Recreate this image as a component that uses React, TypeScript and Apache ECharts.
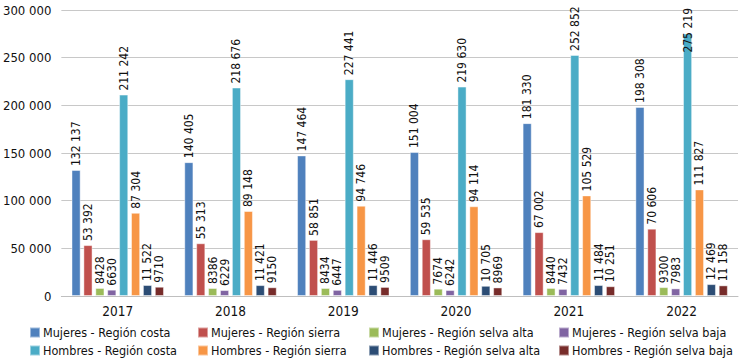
import React, { useEffect, useRef } from "react";
import * as echarts from "echarts";

const years = ["2017", "2018", "2019", "2020", "2021", "2022"];
const seriesNames = [
  "Mujeres - Región costa",
  "Mujeres - Región sierra",
  "Mujeres - Región selva alta",
  "Mujeres - Región selva baja",
  "Hombres - Región costa",
  "Hombres - Región sierra",
  "Hombres - Región selva alta",
  "Hombres - Región selva baja",
];
const colors = ["#4F81BD", "#C0504D", "#9BBB59", "#8064A2", "#4BACC6", "#F79646", "#2C4D75", "#772C2A"];

const mujeresCosta = [132137, 140405, 147464, 151004, 181330, 198308];
const mujeresSierra = [53392, 55313, 58851, 59535, 67002, 70606];
const mujeresSelvaAlta = [8428, 8386, 8434, 7674, 8440, 9300];
const mujeresSelvaBaja = [6630, 6229, 6447, 6242, 7432, 7983];
const hombresCosta = [211242, 218676, 227441, 219630, 252852, 275219];
const hombresSierra = [87304, 89148, 94746, 94114, 105529, 111827];
const hombresSelvaAlta = [11522, 11421, 11446, 10705, 11484, 12469];
const hombresSelvaBaja = [9710, 9150, 9509, 8969, 10251, 11158];

const allData = [
  mujeresCosta,
  mujeresSierra,
  mujeresSelvaAlta,
  mujeresSelvaBaja,
  hombresCosta,
  hombresSierra,
  hombresSelvaAlta,
  hombresSelvaBaja,
];

const FONT = "'DejaVu Sans Condensed', 'Liberation Sans Narrow', sans-serif";

function fmt(v: number): string {
  if (v < 10000) return String(v);
  return String(v).replace(/\B(?=(\d{3})+(?!\d))/g, " ");
}

const legendLeft = [29, 197, 368, 558];
const legendTop = [326, 344];

export default function App() {
  const ref = useRef<HTMLDivElement>(null);
  useEffect(() => {
    if (!ref.current) return;
    const chart = echarts.init(ref.current, undefined, { renderer: "svg" });
    const legends = seriesNames.map((n, i) => ({
      data: [n],
      left: legendLeft[i % 4],
      top: legendTop[Math.floor(i / 4)],
      itemWidth: 10,
      itemHeight: 10,
      icon: "rect",
      padding: 0,
      itemGap: 0,
      textStyle: { fontFamily: FONT, fontSize: 12.5, color: "#111", padding: [0, 0, 0, -2] },
    }));
    chart.setOption({
      animation: false,
      color: colors,
      textStyle: { fontFamily: FONT },
      grid: { left: 60, right: 8, top: 10, bottom: 65 },
      legend: legends,
      xAxis: {
        type: "category",
        data: years,
        axisTick: { show: false },
        axisLine: { lineStyle: { color: "#BFBFBF" } },
        axisLabel: { fontFamily: FONT, fontSize: 13.5, color: "#111", margin: 8 },
      },
      yAxis: {
        type: "value",
        min: 0,
        max: 300000,
        interval: 50000,
        axisLine: { show: false },
        axisTick: { show: false },
        splitLine: { lineStyle: { color: "#C8C8C8" } },
        axisLabel: { fontFamily: FONT, fontSize: 13, color: "#111", margin: 10, formatter: (v: number) => fmt(v) },
      },
      series: seriesNames.map((n, i) => ({
        name: n,
        type: "bar",
        data: allData[i].map((v) =>
          v > 260000 ? { value: v, label: { distance: -19 } } : v
        ),
        barGap: "30%",
        barCategoryGap: "18%",
        itemStyle: { color: colors[i], borderColor: "rgba(255,255,255,0.45)", borderWidth: 1 },
        label: {
          show: true,
          position: "top",
          rotate: 90,
          align: "left",
          verticalAlign: "middle",
          distance: 4,
          fontFamily: FONT,
          fontSize: 12,
          color: "#111",
          formatter: (p: any) => fmt(p.value),
        },
      })),
    });
    return () => chart.dispose();
  }, []);
  return <div ref={ref} style={{ width: 746, height: 361, position: "absolute", left: 0, top: 0 }} />;
}
